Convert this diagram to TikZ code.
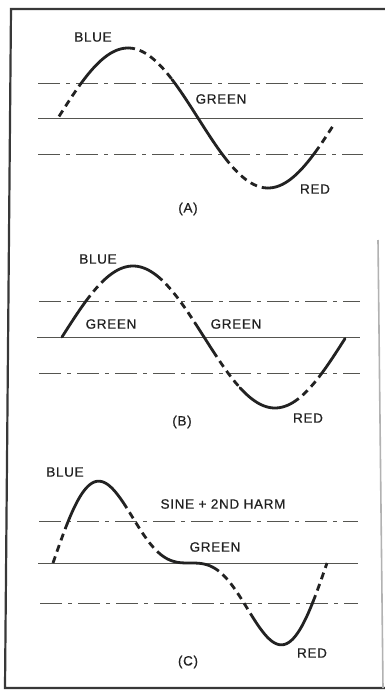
\documentclass[tikz,border=0pt]{standalone}
\usepackage{fontspec}
\setmainfont{Liberation Sans}[LetterSpace=5,FakeBold=0.6]
\definecolor{ink}{HTML}{222222}
\definecolor{refl}{HTML}{555550}
\tikzset{
  frameline/.style={line width=2.2pt, draw=ink!90},
  refsolid/.style={line width=1pt, draw=refl},
  refdashdot/.style={line width=1pt, draw=refl, dash pattern=on 22pt off 6pt on 4pt off 6pt},
  wavesolid/.style={line width=2.8pt, draw=ink, line cap=round},
  wavedash/.style={line width=2.8pt, draw=ink, dash pattern=on 7pt off 5pt},
  lbl/.style={inner sep=0pt, text=ink, font=\fontsize{13.5}{15}\selectfont}
}
\begin{document}
\begin{tikzpicture}[x=1pt,y=-1pt]
\useasboundingbox (0,0) rectangle (385,691);
\fill[white] (0,0) rectangle (385,691);
% frame
\draw[frameline] (385,9) -- (11,9) -- (5,688) -- (385,688);
\draw[line width=1.6pt, draw=gray!60] (378,240) -- (383,688);

% ---------- panel A ----------
\draw[refdashdot] (38,83) -- (363,83);
\draw[refsolid] (38,118) -- (363,118);
\draw[refdashdot] (38,154) -- (363,154);
\def\fA#1{118-70*sin((#1-58)/140*180)}
\draw[wavedash]  plot[domain=59:80,  samples=15, smooth] (\x,{\fA{\x}});
\draw[wavesolid] plot[domain=80:128, samples=30, smooth] (\x,{\fA{\x}});
\draw[wavedash]  plot[domain=128:172,samples=30, smooth] (\x,{\fA{\x}});
\draw[wavesolid] plot[domain=172:225,samples=30, smooth] (\x,{\fA{\x}});
\draw[wavedash]  plot[domain=225:268,samples=30, smooth] (\x,{\fA{\x}});
\draw[wavesolid] plot[domain=268:315,samples=30, smooth] (\x,{\fA{\x}});
\draw[wavedash]  plot[domain=315:333,samples=15, smooth] (\x,{\fA{\x}});
\node[lbl] (aBlue)  at (93,37)  {BLUE};
\node[lbl] (aGreen) at (221,99) {GREEN};
\node[lbl] (aRed)   at (315,189) {RED};
\node[lbl] (aCap)   at (188,209) {(A)};

% ---------- panel B ----------
\draw[refdashdot] (39,301) -- (360,301);
\draw[refsolid] (37,337) -- (360,337);
\draw[refdashdot] (39,373) -- (360,373);
\def\fB#1{337-71*sin((#1-62)/142*180)}
\draw[wavesolid] plot[domain=62:86,  samples=15, smooth] (\x,{\fB{\x}});
\draw[wavedash]  plot[domain=86:105, samples=15, smooth] (\x,{\fB{\x}});
\draw[wavesolid] plot[domain=105:157,samples=30, smooth] (\x,{\fB{\x}});
\draw[wavedash]  plot[domain=157:195,samples=30, smooth] (\x,{\fB{\x}});
\draw[wavesolid] plot[domain=195:213,samples=15, smooth] (\x,{\fB{\x}});
\draw[wavedash]  plot[domain=213:240,samples=20, smooth] (\x,{\fB{\x}});
\draw[wavesolid] plot[domain=240:293,samples=30, smooth] (\x,{\fB{\x}});
\draw[wavedash]  plot[domain=293:322,samples=20, smooth] (\x,{\fB{\x}});
\draw[wavesolid] plot[domain=322:345,samples=15, smooth] (\x,{\fB{\x}});
\node[lbl] (bBlue)   at (98,259)  {BLUE};
\node[lbl] (bGreenL) at (111,324) {GREEN};
\node[lbl] (bGreenR) at (236,324) {GREEN};
\node[lbl] (bRed)    at (308,418) {RED};
\node[lbl] (bCap)    at (182,422) {(B)};

% ---------- panel C ----------
\draw[refdashdot] (39,521) -- (358,521);
\draw[refsolid] (38,563) -- (358,563);
\draw[refdashdot] (40,603) -- (358,603);
\def\fC#1{563-63*(sin((#1-53)/274*360)+0.5*sin((#1-53)/274*720))}
\draw[wavedash]  plot[domain=53:67,  samples=15, smooth] (\x,{\fC{\x}});
\draw[wavesolid] plot[domain=67:123, samples=40, smooth] (\x,{\fC{\x}});
\draw[wavedash]  plot[domain=123:160,samples=30, smooth] (\x,{\fC{\x}});
\draw[wavesolid] plot[domain=160:213,samples=30, smooth] (\x,{\fC{\x}});
\draw[wavedash]  plot[domain=213:253,samples=30, smooth] (\x,{\fC{\x}});
\draw[wavesolid] plot[domain=253:313,samples=40, smooth] (\x,{\fC{\x}});
\draw[wavedash]  plot[domain=313:327,samples=15, smooth] (\x,{\fC{\x}});
\node[lbl] (cBlue)  at (65,472)  {BLUE};
\node[lbl] (cSine)  at (223,504) {SINE + 2ND HARM};
\node[lbl] (cGreen) at (215,547) {GREEN};
\node[lbl] (cRed)   at (312,653) {RED};
\node[lbl] (cCap)   at (188,662) {(C)};
\end{tikzpicture}
\end{document}
